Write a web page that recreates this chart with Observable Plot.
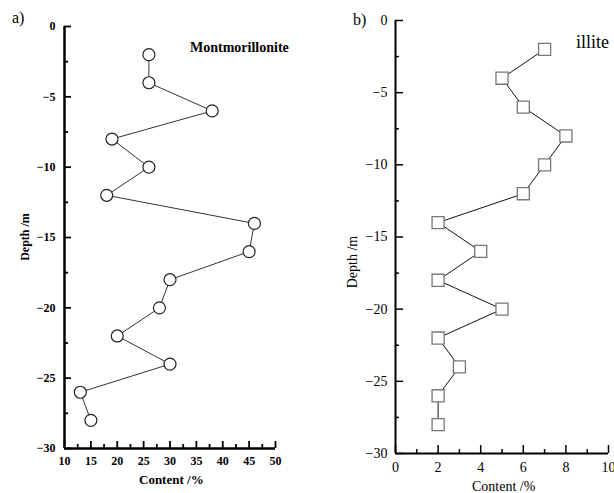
<!DOCTYPE html>
<html>
<head>
<meta charset="utf-8">
<script src="https://cdn.jsdelivr.net/npm/d3@7"></script>
<script src="https://cdn.jsdelivr.net/npm/@observablehq/plot@0.6"></script>
<style>
  body { margin: 0; background: white; }
  #wrap { position: relative; width: 614px; height: 493px; overflow: hidden; font-family: "Liberation Serif", serif; color: black; }
  .panel { position: absolute; top: 0; }
  .lbl { position: absolute; white-space: nowrap; line-height: 1; }
</style>
</head>
<body>
<div id="wrap"></div>
<script>
// Depth (m) of each sample
const depth = [-2, -4, -6, -8, -10, -12, -14, -16, -18, -20, -22, -24, -26, -28];
// Panel a) montmorillonite content (%)
const montmorillonite = [26, 26, 38, 19, 26, 18, 46, 45, 30, 28, 20, 30, 13, 15];
// Panel b) illite content (%)
const illite = [7, 5, 6, 8, 7, 6, 2, 4, 2, 5, 2, 3, 2, 2];

// Tick values
const aXTicks = [10, 15, 20, 25, 30, 35, 40, 45, 50];
const aXMinor = [12.5, 17.5, 22.5, 27.5, 32.5, 37.5, 42.5, 47.5];
const yTicks = [0, -5, -10, -15, -20, -25, -30];
const yMinor = [-2.5, -7.5, -12.5, -17.5, -22.5, -27.5];
const bXTicks = [0, 2, 4, 6, 8, 10];
const bXMinor = [1, 3, 5, 7, 9];

const dataA = depth.map((d, i) => ({depth: d, value: montmorillonite[i]}));
const dataB = depth.map((d, i) => ({depth: d, value: illite[i]}));

const wrap = document.getElementById("wrap");

// inward tick marks drawn as rules inset to a fixed pixel length
function inwardTicks(xt, xm, yt, ym, frameW, frameH, maj, min, sw) {
  return [
    Plot.ruleX(xt, {x: d => d, insetTop: frameH - maj, strokeWidth: sw}),
    Plot.ruleX(xm, {x: d => d, insetTop: frameH - min, strokeWidth: sw}),
    Plot.ruleY(yt, {y: d => d, insetRight: frameW - maj, strokeWidth: sw}),
    Plot.ruleY(ym, {y: d => d, insetRight: frameW - min, strokeWidth: sw})
  ];
}

const A = {width: 300, height: 493, ml: 64, mr: 25, mt: 26, mb: 45};
const plotA = Plot.plot({
  width: A.width, height: A.height,
  marginLeft: A.ml, marginRight: A.mr, marginTop: A.mt, marginBottom: A.mb,
  x: {domain: [10, 50]},
  y: {domain: [-30, 0]},
  style: {fontFamily: "Liberation Serif", fontSize: "12px", fontWeight: "bold", background: "transparent", overflow: "visible"},
  marks: [
    Plot.axisX(aXTicks, {tickSize: 0, tickPadding: 8, label: null, fontWeight: "bold"}),
    Plot.axisY(yTicks, {tickSize: 0, tickPadding: 9, label: null, fontWeight: "bold"}),
    ...inwardTicks(aXTicks, aXMinor, yTicks, yMinor, A.width - A.ml - A.mr, A.height - A.mt - A.mb, 7, 4, 1.8),
    Plot.ruleX([10], {strokeWidth: 2.5}),
    Plot.ruleY([-30], {strokeWidth: 2.5}),
    Plot.line(dataA, {x: "value", y: "depth", stroke: "#333", strokeWidth: 1}),
    Plot.dot(dataA, {x: "value", y: "depth", r: 6, fill: "white", stroke: "#222", strokeWidth: 1.2})
  ]
});
plotA.classList.add("panel");
plotA.style.left = "0px";
wrap.appendChild(plotA);

const B = {width: 314, height: 493, ml: 95, mr: 6, mt: 20, mb: 40};
const plotB = Plot.plot({
  width: B.width, height: B.height,
  marginLeft: B.ml, marginRight: B.mr, marginTop: B.mt, marginBottom: B.mb,
  x: {domain: [0, 10]},
  y: {domain: [-30, 0]},
  style: {fontFamily: "Liberation Serif", fontSize: "14px", background: "transparent", overflow: "visible"},
  marks: [
    Plot.axisX(bXTicks, {tickSize: 0, tickPadding: 9, label: null}),
    Plot.axisY(yTicks, {tickSize: 0, tickPadding: 8, label: null}),
    ...inwardTicks(bXTicks, bXMinor, yTicks, yMinor, B.width - B.ml - B.mr, B.height - B.mt - B.mb, 8, 4, 1.5),
    Plot.ruleX([0], {strokeWidth: 2}),
    Plot.ruleY([-30], {strokeWidth: 2}),
    Plot.line(dataB, {x: "value", y: "depth", stroke: "#111", strokeWidth: 1}),
    Plot.dot(dataB, {x: "value", y: "depth", symbol: "square", r: 6.8, fill: "white", stroke: "#777", strokeWidth: 1.3})
  ]
});
plotB.classList.add("panel");
plotB.style.left = "300px";
wrap.appendChild(plotB);

function label(text, x, y, css) {
  const el = document.createElement("div");
  el.className = "lbl";
  el.textContent = text;
  el.style.left = x + "px";
  el.style.top = y + "px";
  Object.assign(el.style, css || {});
  wrap.appendChild(el);
  return el;
}
label("a)", 12, 10, {fontSize: "16px"});
label("Montmorillonite", 190, 41, {fontSize: "14px", fontWeight: "bold"});
label("Content /%", 139, 473, {fontSize: "13px", fontWeight: "bold"});
label("Depth /m", 25, 237, {fontSize: "12px", fontWeight: "bold", transform: "translate(-50%,-50%) rotate(-90deg)"});
label("b)", 353, 12, {fontSize: "16px"});
label("illite", 576, 33, {fontSize: "18px"});
label("Content  /%", 472, 480, {fontSize: "14px"});
label("Depth  /m", 353, 262, {fontSize: "14px", transform: "translate(-50%,-50%) rotate(-90deg)"});
</script>
</body>
</html>
